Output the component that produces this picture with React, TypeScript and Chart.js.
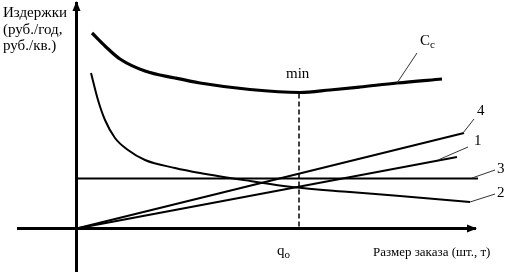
import React, { useEffect, useRef } from "react";
import { Chart, registerables } from "chart.js";

Chart.register(...registerables);

// Total cost curve Cc
const ccX = [1.55, 2.85, 4.35, 6.85, 9.85, 12.35, 17.35, 22.35, 25.35, 28.35, 32.05, 36.55];
const ccY = [19.55, 18.25, 16.95, 15.75, 15.05, 14.55, 13.9, 13.6, 13.85, 14.15, 14.55, 14.95];
// Curve 2 (ordering costs, hyperbola)
const c2X = [1.45, 2.15, 2.85, 3.85, 5.15, 6.85, 9.85, 12.35, 17.35, 21.55, 27.35, 32.35, 39.35];
const c2Y = [15.55, 12.85, 10.85, 9.05, 7.85, 6.85, 6.05, 5.55, 4.75, 4.15, 3.65, 3.25, 2.65];
// Line 4
const l4X = [0, 38.75];
const l4Y = [0, 9.55];
// Line 1
const l1X = [0, 38.05];
const l1Y = [0, 7.15];
// Line 3 (constant)
const l3X = [0, 40.15];
const l3Y = [5.0, 5.0];
// Optimum order size
const qOpt = 22.25;
const minCost = 13.5;
// Axes extents
const axisXRange = [-5.95, 39.95];
const axisYRange = [-4.35, 22.65];

// Leader lines [x0, y0, x1, y1]
const leaders = [
  [32.05, 14.55, 34.05, 17.55],
  [38.65, 9.55, 39.75, 10.95],
  [36.15, 6.85, 39.15, 8.15],
  [39.55, 5.05, 41.85, 5.85],
  [39.35, 2.65, 41.85, 3.45],
];

const labels = [
  { t: "Издержки", x: -7.35, y: 21.15 },
  { t: "(руб./год,", x: -7.35, y: 19.45 },
  { t: "руб./кв.)", x: -7.35, y: 17.85 },
  { t: "min", x: 20.95, y: 15.05 },
  { t: "4", x: 40.05, y: 11.35 },
  { t: "1", x: 39.75, y: 8.35 },
  { t: "3", x: 42.05, y: 5.55 },
  { t: "2", x: 42.05, y: 3.15 },
];
const subLabels = [
  { t: "С", s: "c", x: 34.35, y: 18.35 },
  { t: "q", s: "o", x: 20.05, y: -2.65 },
];
const xTitle = { t: "Размер заказа (шт., т)", x: 29.65, y: -2.75 };

const pts = (xs: number[], ys: number[]) => xs.map((x, i) => ({ x, y: ys[i] }));

const FONT = '"Liberation Serif", "Times New Roman", serif';

const overlay = {
  id: "overlay",
  afterDatasetsDraw(chart: any) {
    const ctx = chart.ctx as CanvasRenderingContext2D;
    const xs = chart.scales.x;
    const ys = chart.scales.y;
    const px = (v: number) => xs.getPixelForValue(v);
    const py = (v: number) => ys.getPixelForValue(v);
    ctx.save();
    ctx.fillStyle = "#000";
    // arrowheads
    const tipY = { x: px(0), y: py(axisYRange[1]) };
    ctx.beginPath();
    ctx.moveTo(tipY.x, tipY.y - 1);
    ctx.lineTo(tipY.x - 4, tipY.y + 9);
    ctx.lineTo(tipY.x + 4, tipY.y + 9);
    ctx.closePath();
    ctx.fill();
    const tipX = { x: px(axisXRange[1]), y: py(0) };
    ctx.beginPath();
    ctx.moveTo(tipX.x + 1, tipX.y);
    ctx.lineTo(tipX.x - 9, tipX.y - 4);
    ctx.lineTo(tipX.x - 9, tipX.y + 4);
    ctx.closePath();
    ctx.fill();
    // leaders
    ctx.strokeStyle = "#333";
    ctx.lineWidth = 1;
    leaders.forEach(([x0, y0, x1, y1]) => {
      ctx.beginPath();
      ctx.moveTo(px(x0), py(y0));
      ctx.lineTo(px(x1), py(y1));
      ctx.stroke();
    });
    // labels
    ctx.textAlign = "left";
    ctx.textBaseline = "alphabetic";
    ctx.font = `15px ${FONT}`;
    labels.forEach((l) => ctx.fillText(l.t, px(l.x), py(l.y)));
    subLabels.forEach((l) => {
      ctx.font = `15px ${FONT}`;
      const w = ctx.measureText(l.t).width;
      ctx.fillText(l.t, px(l.x), py(l.y));
      ctx.font = `11px ${FONT}`;
      ctx.fillText(l.s, px(l.x) + w, py(l.y) + 3);
    });
    ctx.font = `13px ${FONT}`;
    ctx.fillText(xTitle.t, px(xTitle.x), py(xTitle.y));
    ctx.restore();
  },
};

export default function App() {
  const ref = useRef<HTMLCanvasElement | null>(null);
  useEffect(() => {
    if (!ref.current) return;
    const line = (data: any[], width: number, extra: any = {}) => ({
      data,
      borderColor: "#000",
      borderWidth: width,
      pointRadius: 0,
      fill: false,
      showLine: true,
      ...extra,
    });
    const chart = new Chart(ref.current, {
      type: "line",
      data: {
        datasets: [
          line(pts(axisXRange, [0, 0]), 3),
          line(pts([0, 0], axisYRange), 3),
          line(pts([qOpt, qOpt], [minCost, 0]), 1.5, { borderDash: [5, 3] }),
          line(pts(l3X, l3Y), 2),
          line(pts(l1X, l1Y), 2),
          line(pts(l4X, l4Y), 2),
          line(pts(c2X, c2Y), 2, { cubicInterpolationMode: "monotone" }),
          line(pts(ccX, ccY), 3.2, { cubicInterpolationMode: "monotone" }),
        ],
      },
      options: {
        animation: false,
        responsive: false,
        layout: { padding: 0 },
        plugins: { legend: { display: false }, tooltip: { enabled: false } },
        scales: {
          x: { type: "linear", min: -7.65, max: 42.95, display: false },
          y: { type: "linear", min: -4.65, max: 22.85, display: false },
        },
      },
      plugins: [overlay],
    });
    return () => chart.destroy();
  }, []);
  return (
    <div style={{ position: "fixed", left: 0, top: 0, width: 506, height: 275, background: "#fff" }}>
      <canvas ref={ref} width={506} height={275} style={{ width: 506, height: 275, display: "block" }} />
    </div>
  );
}
